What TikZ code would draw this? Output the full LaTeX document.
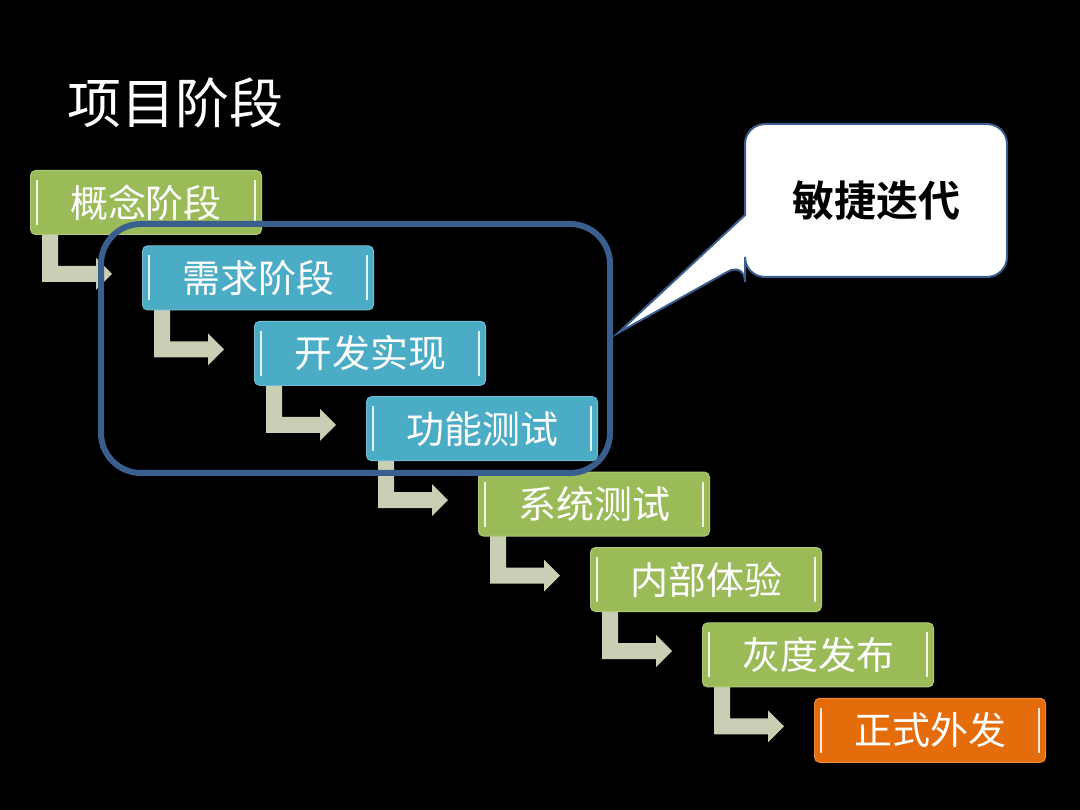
\documentclass[tikz,border=0pt]{standalone}
\usepackage{fontspec}
\setmainfont{Noto Sans CJK SC}
\newfontfamily\cjkb{Noto Sans CJK SC Bold}
\begin{document}
\begin{tikzpicture}[x=1pt,y=-1pt,
  stagebox/.style={rounded corners=5pt,minimum width=231pt,minimum height=64pt,anchor=north west,text=white,font=\fontsize{38}{40}\selectfont,draw=#1!80!white,line width=1pt,fill=#1,inner sep=0pt},
  elbow/.style={draw=none,fill=arrowc}]
\definecolor{gr}{HTML}{9BBB59}\definecolor{bl}{HTML}{4BACC6}\definecolor{og}{HTML}{E46C0A}
\definecolor{arrowc}{HTML}{C9CFB4}\definecolor{frame}{HTML}{3A5F8F}
\fill[black] (0,0) rectangle (1080,810);
\useasboundingbox (0,0) rectangle (1080,810);
\node[anchor=west,text=white,font=\fontsize{54}{56}\selectfont] (title) at (64,103) {项目阶段};
\foreach \i/\c/\t in {0/gr/概念阶段,1/bl/需求阶段,2/bl/开发实现,3/bl/功能测试,4/gr/系统测试,5/gr/内部体验,6/gr/灰度发布,7/og/正式外发}{
  \pgfmathsetmacro\xx{30+112*\i}\pgfmathsetmacro\yy{170+75.4*\i}
  \ifnum\i<7
  \fill[arrowc] (\xx+12,\yy+64) -- (\xx+28,\yy+64) -- (\xx+28,\yy+96) -- (\xx+66,\yy+96) -- (\xx+66,\yy+88) -- (\xx+82,\yy+104) -- (\xx+66,\yy+120) -- (\xx+66,\yy+112) -- (\xx+12,\yy+112) -- cycle;
  \fi
  \node[stagebox=\c] (s\i) at (\xx,\yy) {\t};
  \draw[white!85!\c,line width=2.5pt] ([xshift=7pt,yshift=-10pt]s\i.north west) -- ([xshift=7pt,yshift=10pt]s\i.south west);
  \draw[white!85!\c,line width=2.5pt] ([xshift=-7pt,yshift=-10pt]s\i.north east) -- ([xshift=-7pt,yshift=10pt]s\i.south east);
}
\draw[frame,line width=6pt,rounded corners=40pt] (101,224) rectangle (610,473);
\coordinate (tip) at (618,333);
\draw[frame,line width=2pt,fill=white,rounded corners=20pt] (745,124) -- (1007,124) -- (1007,277) -- (745,277) -- (745,262) [sharp corners] -- (tip) -- (745,215) [rounded corners=20pt] -- cycle;
\node[font=\cjkb\fontsize{42}{44}\selectfont] (cb) at (876,201) {敏捷迭代};
\end{tikzpicture}
\end{document}
